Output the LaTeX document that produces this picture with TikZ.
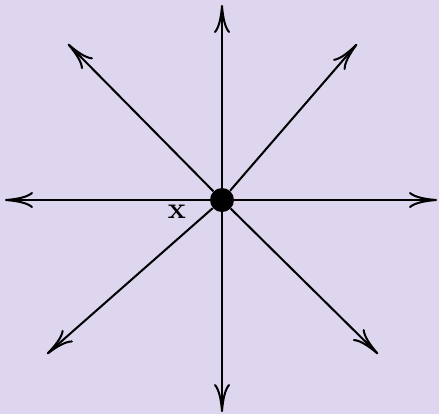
\documentclass[tikz,border=0pt]{standalone}
\usepackage{amsmath}
\usepackage{tikz}
\usetikzlibrary{arrows.meta}
\definecolor{lavbg}{RGB}{221,214,238}

\begin{document}
\begin{tikzpicture}[
      x=0.02cm, y=-0.02cm,
      ray/.style={draw, line width=1.15pt, -{Computer Modern Rightarrow[length=0.56cm, width=0.32cm, line width=1.15pt]}},
      dot/.style={circle, fill=black, inner sep=0pt, minimum size=0.48cm}
    ]
      \fill[lavbg] (0,0) rectangle (439,414);
      \useasboundingbox (0,0) rectangle (439,414);

      \node[dot] (O) at (222,200) {};
      \node[font=\fontsize{17}{20}\selectfont] (lbl) at (177,212) {$\mathbf{x}$};

      \coordinate (N) at (222,5);
      \coordinate (S) at (222,412);
      \coordinate (W) at (5,200);
      \coordinate (E) at (437,200);
      \coordinate (NW) at (68,44);
      \coordinate (NE) at (357,44);
      \coordinate (SW) at (47,354);
      \coordinate (SE) at (378,354);

      \draw[ray] (O) -- (N);
      \draw[ray] (O) -- (S);
      \draw[ray] (O) -- (W);
      \draw[ray] (O) -- (E);
      \draw[ray] (O) -- (NW);
      \draw[ray] (O) -- (NE);
      \draw[ray] (O) -- (SW);
      \draw[ray] (O) -- (SE);
    \end{tikzpicture}
\end{document}
